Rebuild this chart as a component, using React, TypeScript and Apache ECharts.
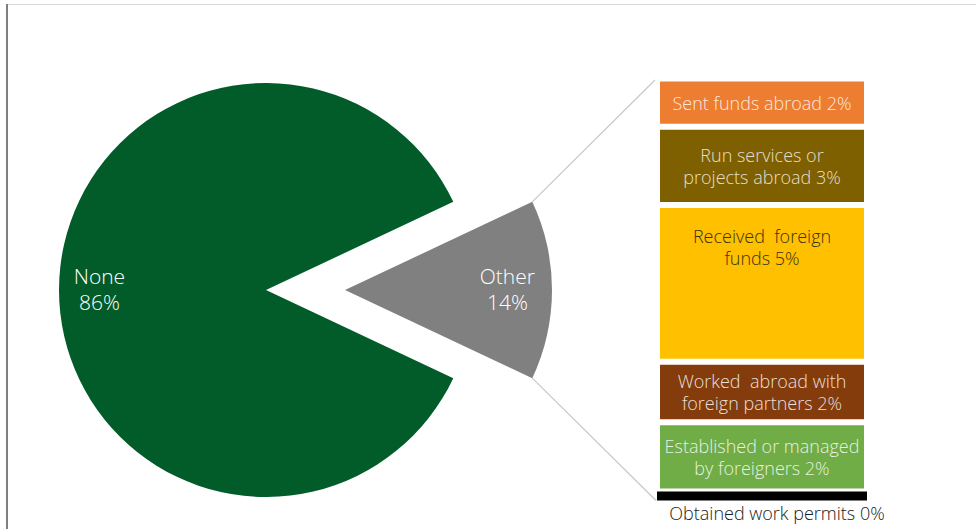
import React, { useEffect, useRef } from "react";
import * as echarts from "echarts";

const pieNames = ["Other", "None"];
const pieValues = [14, 86];
const pieColors = ["#808080", "#025C2A"];

const barNames = [
  "Sent funds abroad",
  "Run services or\nprojects abroad",
  "Received  foreign\nfunds",
  "Worked  abroad with\nforeign partners",
  "Established or managed\nby foreigners",
  "Obtained work permits",
];
const barValues = [1.6, 2.6, 5.2, 2.0, 2.3, 0.3];
const barLabels = ["2%", "3%", "5%", "2%", "2%", "0%"];
const barColors = ["#ED7D31", "#7F6000", "#FFC000", "#843C0C", "#70AD47", "#000000"];
const barTextColors = [
  "rgba(255,255,255,0.85)",
  "rgba(255,255,255,0.8)",
  "#3a3312",
  "rgba(255,255,255,0.85)",
  "rgba(255,255,255,0.85)",
  "#1a1a1a",
];

const FONT = "'Open Sans', Lato, sans-serif";

export default function App() {
  const ref = useRef<HTMLDivElement>(null);
  useEffect(() => {
    if (!ref.current) return;
    const chart = echarts.init(ref.current, null, { renderer: "svg" });
    const W = 976;
    const H = 529;
    const cx = 266;
    const cy = 290;
    const R = 207;
    const offset = 79;
    const half = ((pieValues[0] / (pieValues[0] + pieValues[1])) * 360) / 2;
    const gLeft = 657;
    const gWidth = 210;
    const gTop = 78.5;
    const gHeight = 422;
    const rad = (half * Math.PI) / 180;
    const ox = cx + offset + R * Math.cos(rad);
    const oyTop = cy - R * Math.sin(rad);
    const oyBot = cy + R * Math.sin(rad);

    const total = barValues.reduce((a, b) => a + b, 0);
    const last = barNames.length - 1;

    chart.setOption({
      animation: false,
      backgroundColor: "#ffffff",
      graphic: [
        { type: "line", shape: { x1: 7, y1: 4.5, x2: W, y2: 4.5 }, style: { stroke: "#d9d9d9", lineWidth: 1 } },
        { type: "rect", shape: { x: 6, y: 4, width: 2, height: H - 4 }, style: { fill: "#7f7f7f" } },
        { type: "line", shape: { x1: ox, y1: oyTop, x2: gLeft - 2, y2: gTop + 1.5 }, style: { stroke: "#c8c8c8", lineWidth: 1.2 } },
        { type: "line", shape: { x1: ox, y1: oyBot, x2: gLeft - 1, y2: gTop + gHeight }, style: { stroke: "#c8c8c8", lineWidth: 1.2 } },
      ],
      grid: { left: gLeft, top: gTop, width: gWidth, height: gHeight, containLabel: false },
      xAxis: { type: "category", data: [""], show: false },
      yAxis: { type: "value", min: 0, max: total, inverse: true, show: false },
      series: [
        {
          type: "pie",
          center: [cx, cy],
          radius: R,
          startAngle: half,
          clockwise: true,
          selectedMode: "single",
          selectedOffset: offset,
          emphasis: { disabled: true },
          label: {
            show: true,
            position: "inside",
            formatter: (p: any) => `${p.name}\n${p.value}%`,
            color: "#ffffff",
            fontFamily: FONT,
            fontWeight: 300,
            fontSize: 21,
            lineHeight: 26,
          },
          labelLayout: (p: any) => ({ dx: p.dataIndex === 0 ? R * 0.27 : -R * 0.29, dy: -1 }),
          labelLine: { show: false },
          data: pieNames.map((n, i) => ({
            name: n,
            value: pieValues[i],
            selected: i === 0,
            itemStyle: { color: pieColors[i] },
            select: { itemStyle: { color: pieColors[i] } },
          })),
        },
        ...barNames.map((n, i) => ({
          type: "bar",
          name: n,
          stack: "other",
          barWidth: "100%",
          data: [barValues[i]],
          itemStyle: {
            color: barColors[i],
            borderColor: "#ffffff",
            borderWidth: i === last ? 0 : 3,
          },
          emphasis: { disabled: true },
          label: {
            show: true,
            position: i === 2 ? "insideTop" : i === last ? "bottom" : "inside",
            distance: i === 2 ? 20 : 1,
            offset: i === last ? [15, 0] : [0, 0],
            formatter: () => `${n} ${barLabels[i]}`,
            color: barTextColors[i],
            fontFamily: FONT,
            fontWeight: 300,
            fontSize: 18,
            lineHeight: 22,
            align: "center",
          },
        })),
      ],
    });
    return () => chart.dispose();
  }, []);
  return (
    <div
      ref={ref}
      style={{ position: "fixed", left: 0, top: 0, width: 976, height: 529 }}
    />
  );
}
